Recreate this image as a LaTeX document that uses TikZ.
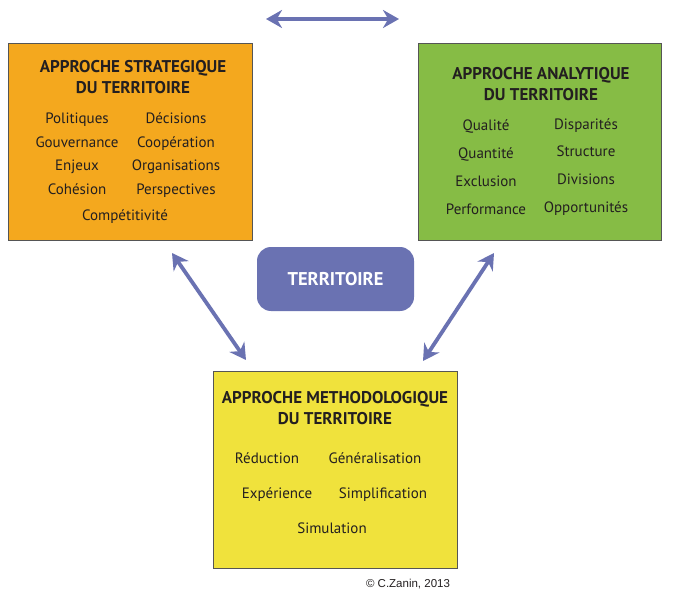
\documentclass[tikz,border=0pt]{standalone}
\usepackage{fontspec}
\setmainfont{PT Sans}
\newfontfamily\arialfont{Liberation Sans}
\usetikzlibrary{arrows.meta}
\definecolor{orangebox}{HTML}{F4A81E}
\definecolor{greenbox}{HTML}{86BC45}
\definecolor{yellowbox}{HTML}{F0E23C}
\definecolor{terrcol}{HTML}{6A72B2}
\definecolor{frame}{HTML}{555555}
\definecolor{txt}{HTML}{231F20}
\tikzset{
  panel/.style={draw=frame, line width=1pt, inner sep=0pt, anchor=north west},
  ttl/.style={font=\fontsize{17}{21}\selectfont\bfseries, text=txt, align=center},
  item/.style={font=\fontsize{15}{17}\selectfont, text=txt, text height=11pt, text depth=3.5pt},
  link/.style={draw=terrcol, line width=3.8pt, {Stealth[length=16pt,width=18pt]}-{Stealth[length=16pt,width=18pt]}},
}
\begin{document}
\begin{tikzpicture}[x=1pt,y=-1pt]
\useasboundingbox[fill=white] (0,0) rectangle (678,594);
% panels
\node[panel, fill=orangebox, minimum width=244pt, minimum height=197pt] (strat) at (8,43) {};
\node[panel, fill=greenbox, minimum width=243pt, minimum height=197pt] (anal) at (418,43) {};
\node[panel, fill=yellowbox, minimum width=244pt, minimum height=197pt] (meth) at (213,371) {};
\node[fill=terrcol, rounded corners=14pt, minimum width=157pt, minimum height=64pt, text=white,
  font=\fontsize{18.5}{21}\selectfont\bfseries] (terr) at (335.5,279) {TERRITOIRE};
% strategic
\node[ttl] (st) at (133,77) {APPROCHE STRATEGIQUE\\DU TERRITOIRE};
\node[item] (s1) at (77,120) {Politiques};
\node[item] (s2) at (176,120) {Décisions};
\node[item] (s3) at (77,144) {Gouvernance};
\node[item] (s4) at (176,144) {Coopération};
\node[item] (s5) at (77,167) {Enjeux};
\node[item] (s6) at (176,167) {Organisations};
\node[item] (s7) at (77,191) {Cohésion};
\node[item] (s8) at (176,191) {Perspectives};
\node[item] (s9) at (125,217) {Compétitivité};
% analytic
\node[ttl] (at) at (541,84) {APPROCHE ANALYTIQUE\\DU TERRITOIRE};
\node[item] (a1) at (486,127) {Qualité};
\node[item] (a2) at (586,126) {Disparités};
\node[item] (a3) at (486,155) {Quantité};
\node[item] (a4) at (586,153) {Structure};
\node[item] (a5) at (486,183) {Exclusion};
\node[item] (a6) at (586,181) {Divisions};
\node[item] (a7) at (486,211) {Performance};
\node[item] (a8) at (586,209) {Opportunités};
% methodological
\node[ttl] (mt) at (335,408) {APPROCHE METHODOLOGIQUE\\DU TERRITOIRE};
\node[item] (m1) at (267,460) {Réduction};
\node[item] (m2) at (375,460) {Généralisation};
\node[item] (m3) at (277,495) {Expérience};
\node[item] (m4) at (383,495) {Simplification};
\node[item] (m5) at (332,530) {Simulation};
% copyright
\node[font=\arialfont\fontsize{11.5}{13}\selectfont, text=txt] (copy) at (408,584) {© C.Zanin, 2013};
% arrows
\coordinate (t1) at (266,19);
\coordinate (t2) at (399,19);
\coordinate (l1) at (172,253);
\coordinate (l2) at (246,360);
\coordinate (r1) at (494,253);
\coordinate (r2) at (423,361);
\draw[link] (t1) -- (t2);
\draw[link] (l1) -- (l2);
\draw[link] (r1) -- (r2);
\end{tikzpicture}
\end{document}
